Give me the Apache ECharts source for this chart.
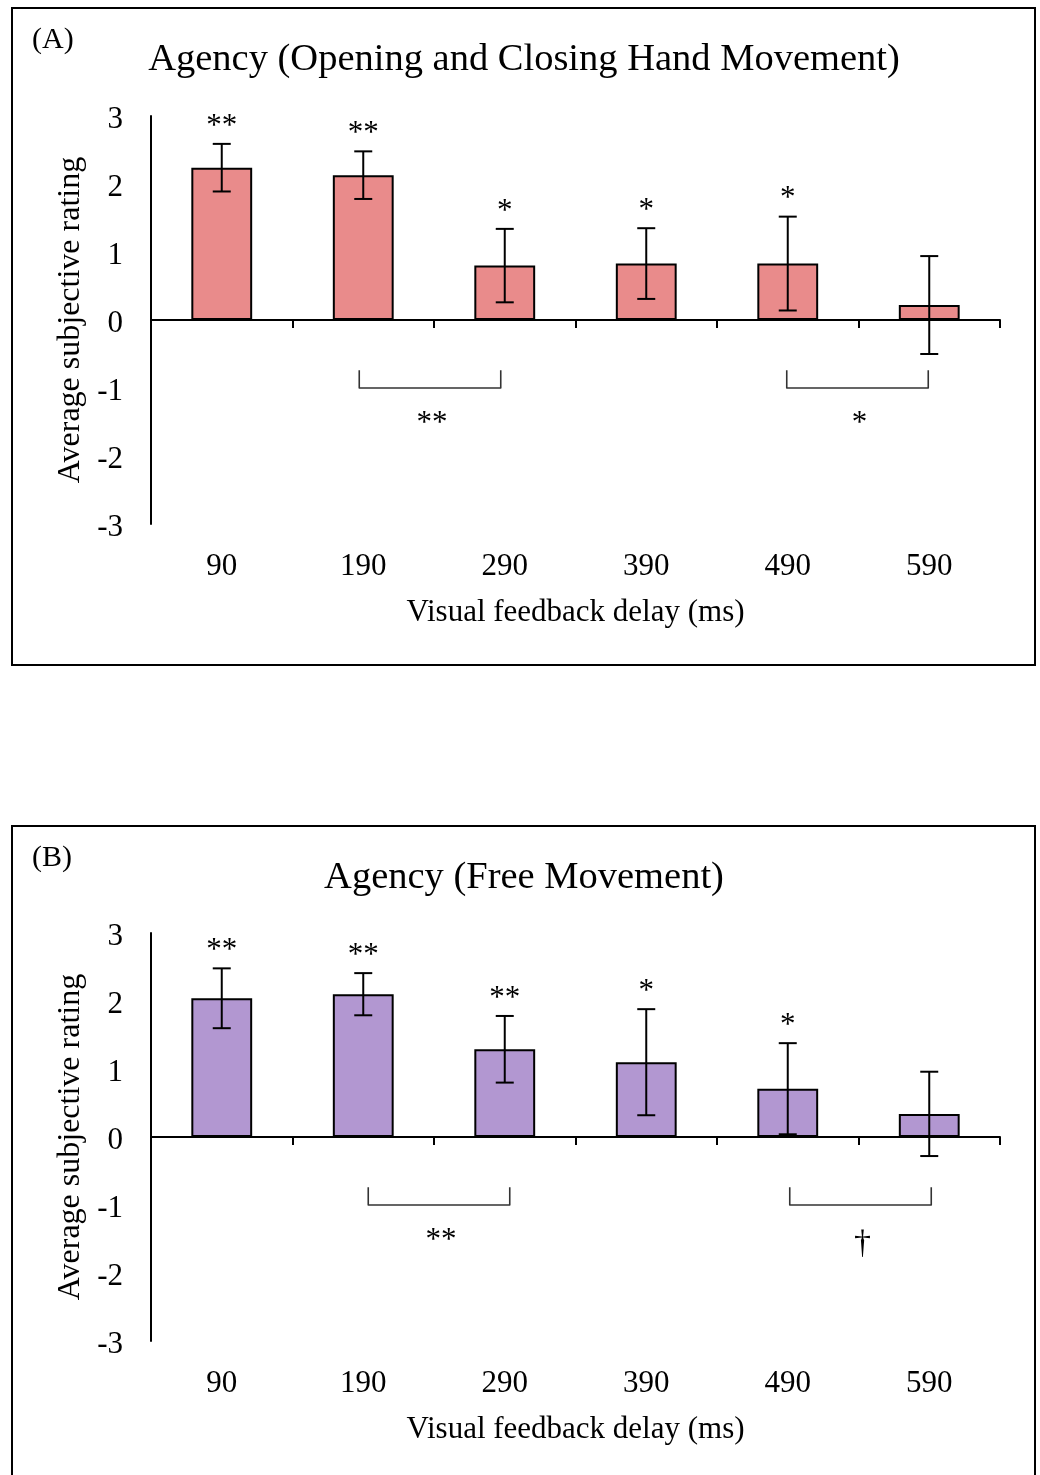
<!DOCTYPE html>
<html>
<head>
<meta charset="utf-8">
<script src="https://cdn.jsdelivr.net/npm/echarts@6/dist/echarts.min.js"></script>
<style>
html,body{margin:0;padding:0;background:#fff;}
#c{width:1040px;height:1475px;}
</style>
</head>
<body>
<div id="c"></div>
<script>
// ---------- data ----------
const categories = ['90', '190', '290', '390', '490', '590'];
const yTicks = [-3, -2, -1, 0, 1, 2, 3];

const titleA = 'Agency (Opening and Closing Hand Movement)';
const meanA = [2.24, 2.13, 0.80, 0.83, 0.83, 0.22];
const errA  = [0.35, 0.35, 0.54, 0.52, 0.69, 0.72];
const sigA  = ['**', '**', '*', '*', '*', ''];
const bracketFromA = [1, 4];
const bracketToA   = [2, 5];
const bracketLabelA = ['**', '*'];

const titleB = 'Agency (Free Movement)';
const meanB = [2.04, 2.10, 1.29, 1.10, 0.71, 0.34];
const errB  = [0.44, 0.31, 0.49, 0.78, 0.67, 0.62];
const sigB  = ['**', '**', '**', '*', '*', ''];
const bracketFromB = [1, 4];
const bracketToB   = [2, 5];
const bracketLabelB = ['**', '\u2020'];

const bracketTop = -0.74;
const bracketBottom = -1.0;
const bracketLabelY = -1.52;

const xName = 'Visual feedback delay (ms)';
const yName = 'Average subjective rating';

// ---------- chart ----------
const FONT = '"Liberation Serif","Times New Roman",serif';
const chart = echarts.init(document.getElementById('c'), null, {renderer: 'canvas'});

const grids = [
  {left: 151, right: 40, top: 116, height: 408},
  {left: 151, right: 40, top: 933, height: 408}
];

function xAxesFor(g) {
  return [
    { // zero line with ticks
      type: 'category', gridIndex: g, data: categories, position: 'bottom',
      axisLine: {show: true, onZero: true, lineStyle: {color: '#000', width: 2}},
      axisTick: {show: true, length: 8, lineStyle: {color: '#000', width: 2}},
      axisLabel: {show: false}, splitLine: {show: false}
    },
    { // labels at bottom
      type: 'category', gridIndex: g, data: categories, position: 'bottom',
      axisLine: {show: false, onZero: false}, axisTick: {show: false},
      axisLabel: {show: true, margin: 27, color: '#000', fontSize: 31, fontFamily: FONT},
      name: xName, nameLocation: 'middle', nameGap: 73,
      nameTextStyle: {color: '#000', fontSize: 31, fontFamily: FONT},
      splitLine: {show: false}
    }
  ];
}

function yAxisFor(g) {
  return {
    type: 'value', gridIndex: g, min: yTicks[0], max: yTicks[yTicks.length - 1], interval: 1,
    axisLine: {show: true, lineStyle: {color: '#000', width: 2}},
    axisTick: {show: false}, splitLine: {show: false},
    axisLabel: {margin: 28, color: '#000', fontSize: 31, fontFamily: FONT,
      formatter: '{a|{value}}',
      rich: {a: {color: '#000', fontSize: 31, fontFamily: FONT, padding: [8, 0, 0, 0]}}},
    name: yName, nameLocation: 'middle', nameGap: 64, nameRotate: 90,
    nameTextStyle: {color: '#000', fontSize: 32, fontFamily: FONT}
  };
}

function barSeries(g, means, color) {
  return {
    type: 'bar', xAxisIndex: g * 2, yAxisIndex: g, data: means, barWidth: '43%',
    itemStyle: {color: color, borderColor: '#000', borderWidth: 2},
    silent: true, animation: false
  };
}

function errSeries(g, means, errs, sigs) {
  return {
    type: 'custom', xAxisIndex: g * 2, yAxisIndex: g, z: 5, animation: false, silent: true,
    data: means.map((m, i) => [i, m, errs[i]]),
    renderItem: function (params, api) {
      const i = api.value(0), m = api.value(1), e = api.value(2);
      const top = api.coord([i, m + e]);
      const bot = api.coord([i, m - e]);
      const cap = 9;
      const st = {stroke: '#000', lineWidth: 2};
      const children = [
        {type: 'line', shape: {x1: top[0], y1: top[1], x2: bot[0], y2: bot[1]}, style: st},
        {type: 'line', shape: {x1: top[0] - cap, y1: top[1], x2: top[0] + cap, y2: top[1]}, style: st},
        {type: 'line', shape: {x1: bot[0] - cap, y1: bot[1], x2: bot[0] + cap, y2: bot[1]}, style: st}
      ];
      if (sigs[i]) {
        children.push({type: 'text', style: {text: sigs[i], x: top[0], y: top[1] - 2,
          textAlign: 'center', textVerticalAlign: 'bottom', fill: '#000',
          font: '31px ' + FONT}});
      }
      return {type: 'group', children: children};
    }
  };
}

function bracketSeries(g, from, to, labels, shift) {
  return {
    type: 'custom', xAxisIndex: g * 2, yAxisIndex: g, z: 5, animation: false, silent: true,
    data: from.map((f, k) => [f, to[k], k]),
    renderItem: function (params, api) {
      const f = api.value(0), t = api.value(1), k = api.value(2);
      const s = shift[k];
      const a = api.coord([f, bracketTop]);
      const b = api.coord([f, bracketBottom]);
      const c = api.coord([t, bracketBottom]);
      const d = api.coord([t, bracketTop]);
      const lab = api.coord([(f + t) / 2, bracketLabelY]);
      const pts = [[a[0] + s, a[1]], [b[0] + s, b[1]], [c[0] + s, c[1]], [d[0] + s, d[1]]];
      const isDagger = labels[k] === '\u2020';
      return {type: 'group', children: [
        {type: 'polyline', shape: {points: pts},
          style: {stroke: '#333', lineWidth: 1.6, fill: null, lineJoin: 'round'}},
        {type: 'text', style: {text: labels[k], x: (b[0] + c[0]) / 2 + s + 2, y: lab[1] + (isDagger ? 4 : 0),
          textAlign: 'center', textVerticalAlign: 'middle', fill: '#000',
          font: (isDagger ? '34px ' : '31px ') + FONT}}
      ]};
    }
  };
}

const option = {
  backgroundColor: '#fff',
  animation: false,
  grid: grids,
  xAxis: xAxesFor(0).concat(xAxesFor(1)),
  yAxis: [yAxisFor(0), yAxisFor(1)],
  series: [
    barSeries(0, meanA, '#E98B8B'),
    errSeries(0, meanA, errA, sigA),
    bracketSeries(0, bracketFromA, bracketToA, bracketLabelA, [-4, -1]),
    barSeries(1, meanB, '#B297D1'),
    errSeries(1, meanB, errB, sigB),
    bracketSeries(1, bracketFromB, bracketToB, bracketLabelB, [5, 2])
  ],
  graphic: [
    {type: 'rect', shape: {x: 12, y: 8, width: 1023, height: 657}, style: {fill: null, stroke: '#000', lineWidth: 2}, silent: true},
    {type: 'rect', shape: {x: 12, y: 826, width: 1023, height: 700}, style: {fill: null, stroke: '#000', lineWidth: 2}, silent: true},
    {type: 'text', x: 32, y: 40, style: {text: '(A)', font: '30px ' + FONT, fill: '#000', textVerticalAlign: 'middle'}},
    {type: 'text', x: 32, y: 858, style: {text: '(B)', font: '30px ' + FONT, fill: '#000', textVerticalAlign: 'middle'}},
    {type: 'text', x: 524, y: 60, style: {text: titleA, font: '38.5px ' + FONT, fill: '#000', textAlign: 'center', textVerticalAlign: 'middle'}},
    {type: 'text', x: 524, y: 878, style: {text: titleB, font: '38.5px ' + FONT, fill: '#000', textAlign: 'center', textVerticalAlign: 'middle'}}
  ]
};
chart.setOption(option);
</script>
</body>
</html>
